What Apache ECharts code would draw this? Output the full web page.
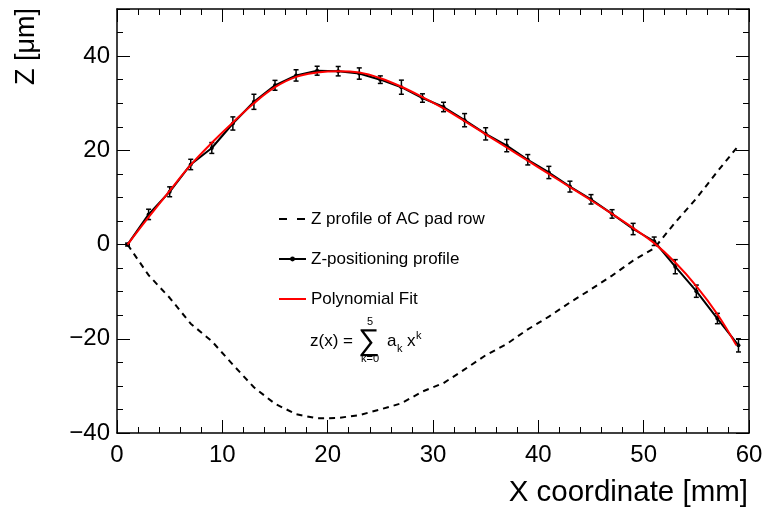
<!DOCTYPE html>
<html>
<head>
<meta charset="utf-8">
<script src="https://cdn.jsdelivr.net/npm/echarts@6/dist/echarts.min.js"></script>
<style>
html,body{margin:0;padding:0;background:#fff;}
#chart{width:765px;height:514px;}
</style>
</head>
<body>
<div id="chart"></div>
<script>
// ---- data ----
const xPoints = [1,3,5,7,9,11,13,15,17,19,21,23,25,27,29,31,33,35,37,39,41,43,45,47,49,51,53,55,57,59];
const zPositioning = [0,6.4,11.2,17.0,20.5,25.7,30.3,33.8,35.9,36.9,36.8,36.3,35.0,33.4,31.1,29.2,26.4,23.5,21.0,18.0,15.3,12.3,9.6,6.5,3.3,0.7,-4.7,-9.9,-15.7,-21.4];
const zErrors = [0.3,1.1,1.05,1.1,1.15,1.4,1.6,1.05,1.2,0.95,1.0,1.2,0.8,1.5,0.9,1.0,1.4,1.3,1.3,1.1,1.3,1.15,1.0,0.9,1.2,0.9,1.5,1.3,1.1,1.4];
const acPadRow = [0,-6.5,-11.3,-16.8,-20.5,-25.5,-30.3,-33.8,-36.0,-36.9,-36.8,-36.2,-35.0,-33.7,-31.2,-29.4,-26.5,-23.5,-21.1,-18.0,-15.3,-12.3,-9.5,-6.6,-3.4,-0.8,4.7,9.8,15.5,21.0];
const fitX = [1,3,5,7,9,11,13,15,17,19,21,23,25,27,29,31,33,35,37,39,41,43,45,47,49,51,53,55,57,58.8];
const fitZ = [0,5.8,11.4,16.9,21.6,25.9,30.0,33.4,35.6,36.5,36.8,36.5,35.3,33.5,31.3,28.9,26.2,23.4,20.6,17.8,15.0,12.2,9.4,6.5,3.5,0.3,-3.8,-8.8,-14.8,-21.4];
const xTicks = {min:0, max:60, interval:10};
const yTicks = {min:-40, max:50, interval:20};
const seriesNames = ['Z profile of AC pad row','Z-positioning profile','Polynomial Fit'];

const FONT = '"Liberation Sans", Arial, Helvetica, sans-serif';

function pairs(xs, ys){ return xs.map((x,i)=>[x, ys[i]]); }
function fmt(v){ return String(v).replace('-', '\u2212'); }

const axisCommon = {
  axisLine:{show:true, onZero:false, lineStyle:{color:'#000', width:1.5}},
  axisTick:{show:true, inside:true, length:13, lineStyle:{color:'#000', width:1}},
  minorTick:{show:true, length:6, lineStyle:{color:'#000', width:1}},
  splitLine:{show:false}
};

function xAx(pos, showLabel){
  return Object.assign({}, axisCommon, {
    type:'value', position:pos, min:xTicks.min, max:xTicks.max, interval:xTicks.interval,
    minorTick:Object.assign({}, axisCommon.minorTick, {splitNumber:5}),
    axisLabel:{show:showLabel, margin:10, color:'#000', fontSize:24, fontFamily:FONT, formatter:fmt}
  });
}
function yAx(pos, showLabel){
  return Object.assign({}, axisCommon, {
    type:'value', position:pos, min:yTicks.min, max:yTicks.max, interval:yTicks.interval,
    minorTick:Object.assign({}, axisCommon.minorTick, {splitNumber:4}),
    axisLabel:{show:showLabel, margin:7, color:'#000', fontSize:24, fontFamily:FONT,
      formatter:v => (v === yTicks.max ? '' : fmt(v))}
  });
}

const chart = echarts.init(document.getElementById('chart'), null, {renderer:'canvas'});
const sub = 11, main = 17;
const hidden = {color:'rgba(0,0,0,0)', opacity:0, borderWidth:0};
chart.setOption({
  animation:false,
  backgroundColor:'#fff',
  grid:{left:117, right:16, top:9, bottom:81, containLabel:false, outerBoundsMode:'none'},
  xAxis:[xAx('bottom', true), xAx('top', false)],
  yAxis:[yAx('left', true), yAx('right', false)],
  legend:{
    orient:'vertical', left:278, top:209, padding:0, itemWidth:27, itemHeight:6, itemGap:20,
    data:[
      {name:seriesNames[0], itemStyle:hidden, lineStyle:{width:2, type:[8,10], color:'#000'}},
      {name:seriesNames[1], lineStyle:{width:2, color:'#000'}},
      {name:seriesNames[2], itemStyle:hidden, lineStyle:{width:2, color:'#ff0000'}}
    ],
    textStyle:{fontSize:main, fontFamily:FONT, color:'#000', lineHeight:20},
    selectedMode:false
  },
  series:[
    {name:seriesNames[0], type:'line', data:pairs(xPoints, acPadRow), symbol:'none', smooth:false,
     lineStyle:{color:'#000', width:2, type:[6,5]}, itemStyle:{color:'#000'}, z:2},
    {name:seriesNames[1], type:'line', data:pairs(xPoints, zPositioning), symbol:'circle', symbolSize:4,
     lineStyle:{color:'#000', width:2}, itemStyle:{color:'#000'}, z:3},
    {name:'errors', type:'custom', data:xPoints.map((x,i)=>[x, zPositioning[i]-zErrors[i], zPositioning[i]+zErrors[i]]),
     encode:{x:0, y:[1,2]}, z:4,
     renderItem:(params, api)=>{
       const lo = api.coord([api.value(0), api.value(1)]);
       const hi = api.coord([api.value(0), api.value(2)]);
       const w = 2.5, st = {stroke:'#000', lineWidth:1.5};
       return {type:'group', children:[
         {type:'line', shape:{x1:lo[0], y1:lo[1], x2:hi[0], y2:hi[1]}, style:st},
         {type:'line', shape:{x1:lo[0]-w, y1:lo[1], x2:lo[0]+w, y2:lo[1]}, style:st},
         {type:'line', shape:{x1:hi[0]-w, y1:hi[1], x2:hi[0]+w, y2:hi[1]}, style:st}
       ]};
     }},
    {name:seriesNames[2], type:'line', data:pairs(fitX, fitZ), symbol:'none', smooth:0.4,
     lineStyle:{color:'#ff0000', width:2}, itemStyle:{color:'#ff0000'}, z:5}
  ],
  graphic:[
    {type:'text', x:748, y:493, style:{text:'X coordinate [mm]', fontSize:29.5, fontFamily:FONT, fill:'#000', align:'right', verticalAlign:'middle'}},
    {type:'text', x:27, y:8, rotation:Math.PI/2, style:{text:'Z [\u03bcm]', fontSize:27, fontFamily:FONT, fill:'#000', align:'right', verticalAlign:'middle'}},
    {type:'text', x:310, y:341, style:{text:'z(x) =', fontSize:main, fontFamily:FONT, fill:'#000', align:'left', verticalAlign:'middle'}},
    {type:'text', x:369, y:342, style:{text:'\u2211', fontSize:30, fontFamily:FONT, fill:'#000', align:'center', verticalAlign:'middle'}},
    {type:'text', x:370, y:322, style:{text:'5', fontSize:sub, fontFamily:FONT, fill:'#000', align:'center', verticalAlign:'middle'}},
    {type:'text', x:370, y:359, style:{text:'k=0', fontSize:sub, fontFamily:FONT, fill:'#000', align:'center', verticalAlign:'middle'}},
    {type:'text', x:387, y:341, style:{text:'a', fontSize:main, fontFamily:FONT, fill:'#000', align:'left', verticalAlign:'middle'}},
    {type:'text', x:397, y:349, style:{text:'k', fontSize:sub, fontFamily:FONT, fill:'#000', align:'left', verticalAlign:'middle'}},
    {type:'text', x:407, y:341, style:{text:'x', fontSize:main, fontFamily:FONT, fill:'#000', align:'left', verticalAlign:'middle'}},
    {type:'text', x:416, y:336, style:{text:'k', fontSize:sub, fontFamily:FONT, fill:'#000', align:'left', verticalAlign:'middle'}}
  ]
});
</script>
</body>
</html>
